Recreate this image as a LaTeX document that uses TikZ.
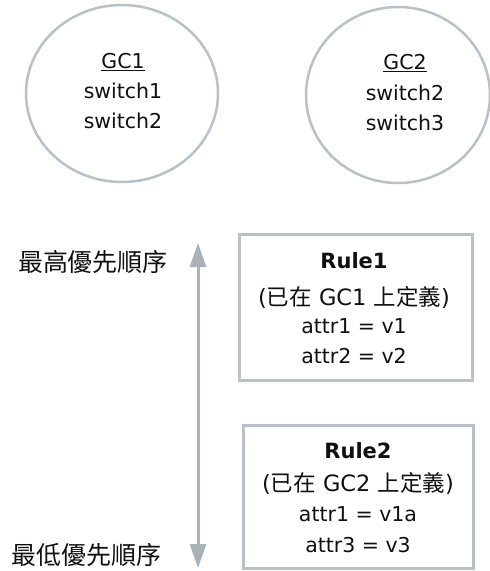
\documentclass[tikz,border=0pt]{standalone}
\usepackage{fontspec}
\setmainfont{DejaVu Sans}
\newfontfamily\cjk{Noto Sans CJK TC}
\usetikzlibrary{shapes.geometric,arrows.meta}
\definecolor{edge}{HTML}{B8C0C8}
\definecolor{arr}{HTML}{A9B1B9}
\definecolor{ink}{HTML}{101010}
\tikzset{
  x=1pt, y=-1pt,
  grp/.style={draw=edge, line width=2.5pt, ellipse, inner sep=0pt},
  rulebox/.style={draw=edge, line width=3pt, rectangle, inner sep=0pt},
  txt/.style={text=ink, font=\fontsize{20.5}{24}\selectfont, inner sep=0pt, anchor=center},
  gtxt/.style={txt, font=\fontsize{22.5}{26}\selectfont},
  btxt/.style={txt, font=\fontsize{21}{24}\selectfont\bfseries},
  lbl/.style={text=ink, font=\fontsize{25}{28}\selectfont\cjk, inner sep=0pt},
  prio/.style={draw=arr, line width=3pt, {Triangle[width=16pt,length=24pt]}-{Triangle[width=16pt,length=24pt]}}
}
\begin{document}
\begin{tikzpicture}
\useasboundingbox (0,0) rectangle (490,571);
% groups
\node[grp, minimum width=192pt, minimum height=177pt] (gc1) at (122,93.5) {};
\node[grp, minimum width=184pt, minimum height=176pt] (gc2) at (398,95) {};
\node[txt] (gc1t) at (123,62) {\underline{GC1}};
\node[txt] (gc1a) at (123,91) {switch1};
\node[txt] (gc1b) at (123,121) {switch2};
\node[txt] (gc2t) at (405,63) {\underline{GC2}};
\node[txt] (gc2a) at (405,93) {switch2};
\node[txt] (gc2b) at (405,123) {switch3};
% rule boxes
\node[rulebox, minimum width=233pt, minimum height=146pt] (r1) at (355.5,307) {};
\node[btxt] (r1t) at (354,261) {Rule1};
\node[gtxt] (r1g) at (354,297) {({\cjk 已在} GC1 {\cjk 上定義})};
\node[txt] (r1a) at (354,326) {attr1 = v1};
\node[txt] (r1b) at (354,356) {attr2 = v2};
\node[rulebox, minimum width=230pt, minimum height=143pt] (r2) at (358,496.5) {};
\node[btxt] (r2t) at (358,451) {Rule2};
\node[gtxt] (r2g) at (358,483) {({\cjk 已在} GC2 {\cjk 上定義})};
\node[txt] (r2a) at (358,514) {attr1 = v1a};
\node[txt] (r2b) at (358,545) {attr3 = v3};
% priority arrow
\coordinate (hi) at (198,243);
\coordinate (lo) at (198,568);
\draw[prio] (lo) -- (hi);
\node[lbl] (hil) at (93,262) {最高優先順序};
\node[lbl] (lol) at (87,555) {最低優先順序};
\end{tikzpicture}
\end{document}
